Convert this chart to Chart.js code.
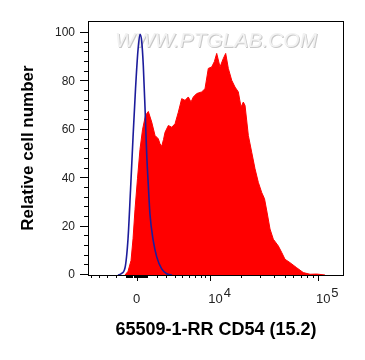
<!DOCTYPE html>
<html>
<head>
<meta charset="utf-8">
<script src="https://cdn.jsdelivr.net/npm/chart.js@4"></script>
<style>
  body { margin: 0; background: #fff; }
</style>
</head>
<body>
<canvas id="myChart" width="365" height="360"></canvas>
<script>
'use strict';

// x = position on the biexponential axis, asinh(intensity / 4520)
var sampleX = [-0.245, -0.182, -0.119, -0.077, -0.036, 0.017, 0.069, 0.121, 0.184, 0.243,
  0.314, 0.383, 0.452, 0.488, 0.523, 0.561, 0.593, 0.662, 0.733, 0.802,
  0.871, 0.942, 1.011, 1.080, 1.137, 1.185, 1.256, 1.361, 1.430, 1.499,
  1.570, 1.625, 1.675, 1.744, 1.813, 1.863, 1.918, 1.989, 2.058, 2.127,
  2.184, 2.232, 2.268, 2.337, 2.408, 2.477, 2.546, 2.617, 2.676, 2.728,
  2.791, 2.860, 2.965, 3.036, 3.105, 3.210, 3.350, 3.488, 3.629, 3.769, 3.943];
var sampleY = [0, 1.5, 6, 15, 27, 40, 52, 60, 66, 67.6,
  63.2, 57.7, 56.3, 54.2, 53.2, 56, 59, 61.8, 61.1, 62.5,
  67.3, 72.9, 72.2, 73.6, 71.5, 73.6, 75, 75.7, 77, 85.4,
  86, 88.2, 91.6, 86, 89.5, 91.6, 85.4, 80.5, 77.7, 75.7,
  69.4, 71.5, 70.1, 57.7, 50.7, 43.9, 38.3, 34.1, 31.5, 26,
  19, 14.8, 12, 9.3, 6.5, 5.1, 3, 1, 0.3, 0.4, 0];

// isotype control
var controlX = [-0.392, -0.329, -0.245, -0.182, -0.130, -0.077, -0.025, 0.027, 0.069, 0.105,
  0.138, 0.174, 0.209, 0.243, 0.278, 0.348, 0.419, 0.523, 0.628, 0.739];
var controlY = [0, 0.5, 3, 15, 35, 57, 77, 93, 99.5, 96.5,
  86.5, 69, 50, 37, 25, 14, 7.5, 2.5, 0.5, 0];

var yTickValues = [0, 20, 40, 60, 80, 100];
var xTickValues = [0, 10000, 100000];
var xTickLabels = [['0', ''], ['10', '4'], ['10', '5']];
var xTitle = '65509-1-RR CD54 (15.2)';
var yTitle = 'Relative cell number';
var watermark = 'WWW.PTGLAB.COM';

var WIDTH_BASIS = 4520;
function toAxis(v) {
  return Math.asinh(v / WIDTH_BASIS);
}

var FONT = '"Liberation Sans", Arial, sans-serif';
Chart.defaults.font.family = FONT;

function points(xs, ys) {
  return xs.map(function(x, i) { return {x: x, y: ys[i]}; });
}

// minor ticks of the x axis (real intensities)
var xMinor = [];
for (var k = -5; k <= -2; k++) xMinor.push(k * 1000);
for (k = -10; k <= 10; k++) if (k !== 0) xMinor.push(k * 100);
for (k = 2; k <= 9; k++) xMinor.push(k * 1000, k * 10000);

var framePlugin = {
  id: 'framePlugin',
  beforeDatasetsDraw: function(chart) {
    var ctx = chart.ctx;
    ctx.save();
    ctx.font = 'italic 21px ' + FONT;
    ctx.textAlign = 'center';
    ctx.textBaseline = 'middle';
    ctx.fillStyle = '#c8c8c8';
    ctx.fillText(watermark, 217, 42);
    ctx.fillStyle = '#f2f2f2';
    ctx.fillText(watermark, 216, 41);
    ctx.restore();
  },
  afterDraw: function(chart) {
    var ctx = chart.ctx, area = chart.chartArea;
    var xs = chart.scales.x, ys = chart.scales.y;
    ctx.save();
    ctx.strokeStyle = '#000';
    ctx.lineWidth = 1;
    ctx.strokeRect(area.left + 0.5, area.top + 0.5, area.right - area.left - 1, area.bottom - area.top);

    ctx.beginPath();
    // y ticks
    for (var v = 0; v <= 100; v += 4) {
      var py = Math.round(ys.getPixelForValue(v)) - 0.5;
      var len = v % 20 === 0 ? 8 : 4;
      ctx.moveTo(area.left - len, py);
      ctx.lineTo(area.left + 0.5, py);
    }
    // x ticks
    xMinor.forEach(function(val) {
      var px = Math.round(xs.getPixelForValue(toAxis(val))) + 0.5;
      if (px < area.left || px > area.right) return;
      ctx.moveTo(px, area.bottom);
      ctx.lineTo(px, area.bottom + 3);
    });
    xTickValues.forEach(function(val) {
      var px = Math.round(xs.getPixelForValue(toAxis(val))) + 0.5;
      ctx.moveTo(px, area.bottom);
      ctx.lineTo(px, area.bottom + 6);
    });
    ctx.stroke();

    // x tick labels with exponent
    ctx.fillStyle = '#222';
    ctx.font = '13px ' + FONT;
    ctx.textBaseline = 'alphabetic';
    xTickValues.forEach(function(val, i) {
      var px = xs.getPixelForValue(toAxis(val));
      var base = xTickLabels[i][0], sup = xTickLabels[i][1];
      if (!sup) {
        ctx.textAlign = 'center';
        ctx.fillText(base, px, 303);
        return;
      }
      var wb = ctx.measureText(base).width, ws = ctx.measureText(sup).width;
      var x0 = px + 9 - (wb + ws) / 2;
      ctx.textAlign = 'left';
      ctx.fillText(base, x0, 303);
      ctx.fillText(sup, x0 + wb + 1, 297);
    });
    ctx.restore();
  }
};

var ctx = document.getElementById('myChart').getContext('2d');
var chart = new Chart(ctx, {
  type: 'scatter',
  data: {
    datasets: [{
      label: 'Isotype',
      data: points(controlX, controlY),
      showLine: true,
      borderColor: '#1c1c9c',
      borderWidth: 1.6,
      pointRadius: 0,
      cubicInterpolationMode: 'monotone',
      fill: false,
      order: 0
    },
    {
      label: 'CD54',
      data: points(sampleX, sampleY),
      showLine: true,
      borderColor: '#ff0000',
      backgroundColor: '#ff0000',
      borderWidth: 1,
      pointRadius: 0,
      tension: 0,
      fill: 'origin',
      order: 1
    }]
  },
  plugins: [framePlugin],
  options: {
    responsive: false,
    animation: false,
    layout: { padding: { top: 21, right: 21, left: 0, bottom: 0 } },
    plugins: {
      legend: { display: false },
      tooltip: { enabled: false }
    },
    scales: {
      x: {
        type: 'linear',
        min: -1.02,
        max: 4.34,
        afterFit: function(scale) { scale.height = 85; },
        ticks: { display: false },
        grid: { display: false, drawTicks: false },
        border: { display: false },
        title: {
          display: true,
          text: xTitle,
          color: '#000',
          font: { size: 18, weight: 'bold' },
          padding: { top: 0, bottom: 19 }
        }
      },
      y: {
        min: 0,
        max: 105,
        afterFit: function(scale) { scale.width = 88; },
        afterBuildTicks: function(scale) {
          scale.ticks = yTickValues.map(function(v) { return {value: v}; });
        },
        ticks: { padding: 13, color: '#222', font: { size: 12 } },
        grid: { display: false, drawTicks: false },
        border: { display: false },
        title: {
          display: true,
          text: yTitle,
          color: '#000',
          font: { size: 17, weight: 'bold' },
          padding: { top: 18, bottom: 0 }
        }
      }
    }
  }
});
</script>
</body>
</html>
